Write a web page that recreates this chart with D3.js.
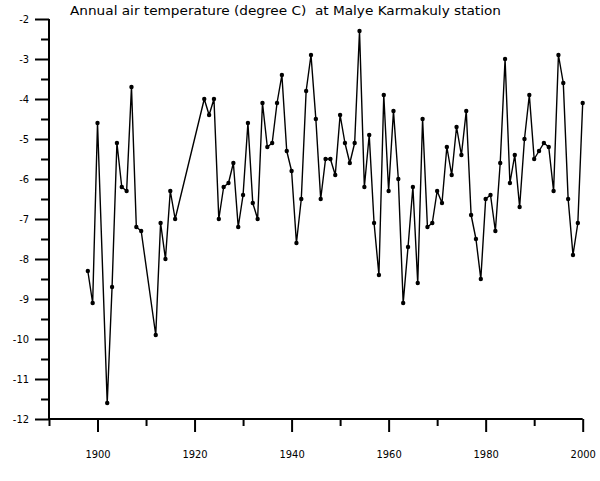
<!DOCTYPE html>
<html>
<head>
<meta charset="utf-8">
<script src="https://cdn.jsdelivr.net/npm/d3@7"></script>
<style>
html,body{margin:0;padding:0;background:#fff;}
svg{display:block;}
</style>
</head>
<body>
<script>
const years = [1898,1899,1900,1902,1903,1904,1905,1906,1907,1908,1909,1912,1913,1914,1915,1916,
1922,1923,1924,1925,1926,1927,1928,1929,1930,1931,1932,1933,1934,1935,1936,1937,1938,1939,1940,
1941,1942,1943,1944,1945,1946,1947,1948,1949,1950,1951,1952,1953,1954,1955,1956,1957,1958,1959,1960,
1961,1962,1963,1964,1965,1966,1967,1968,1969,1970,1971,1972,1973,1974,1975,1976,1977,1978,1979,1980,
1981,1982,1983,1984,1985,1986,1987,1988,1989,1990,1991,1992,1993,1994,1995,1996,1997,1998,1999,2000];
const temps = [-8.3,-9.1,-4.6,-11.6,-8.7,-5.1,-6.2,-6.3,-3.7,-7.2,-7.3,-9.9,-7.1,-8.0,-6.3,-7.0,
-4.0,-4.4,-4.0,-7.0,-6.2,-6.1,-5.6,-7.2,-6.4,-4.6,-6.6,-7.0,-4.1,-5.2,-5.1,-4.1,-3.4,-5.3,-5.8,
-7.6,-6.5,-3.8,-2.9,-4.5,-6.5,-5.5,-5.5,-5.9,-4.4,-5.1,-5.6,-5.1,-2.3,-6.2,-4.9,-7.1,-8.4,-3.9,-6.3,
-4.3,-6.0,-9.1,-7.7,-6.2,-8.6,-4.5,-7.2,-7.1,-6.3,-6.6,-5.2,-5.9,-4.7,-5.4,-4.3,-6.9,-7.5,-8.5,-6.5,
-6.4,-7.3,-5.6,-3.0,-6.1,-5.4,-6.7,-5.0,-3.9,-5.5,-5.3,-5.1,-5.2,-6.3,-2.9,-3.6,-6.5,-7.9,-7.1,-4.1];
const xMajorTicks = [1900,1920,1940,1960,1980,2000];
const xMinorTicks = [1890,1910,1930,1950,1970,1990];
const yMajorTicks = [-2,-3,-4,-5,-6,-7,-8,-9,-10,-11,-12];
const yMinorTicks = [-2.5,-3.5,-4.5,-5.5,-6.5,-7.5,-8.5,-9.5,-10.5,-11.5];
const title = "Annual air temperature (degree C)  at Malye Karmakuly station";

const W = 600, H = 481;
const svg = d3.select("body").append("svg").attr("width", W).attr("height", H);
const x = d3.scaleLinear().domain([1890, 2000]).range([49, 582.7]);
const y = d3.scaleLinear().domain([-12, -2]).range([419, 19]);
const font = "'DejaVu Sans Condensed','DejaVu Sans',sans-serif";
const fmt = d => String(d);

svg.append("text").attr("x", 70).attr("y", 15)
  .attr("font-family", "'DejaVu Sans',sans-serif").attr("font-size", 12.5).attr("fill", "#000")
  .attr("textLength", 431).attr("lengthAdjust", "spacingAndGlyphs")
  .style("white-space", "pre")
  .text(title);

// Y axis
const yMaj = svg.append("g").attr("transform", `translate(${x(1890)},0)`)
  .call(d3.axisLeft(y).tickValues(yMajorTicks).tickSize(14).tickPadding(6).tickFormat(fmt));
const yMin = svg.append("g").attr("transform", `translate(${x(1890)},0)`)
  .call(d3.axisLeft(y).tickValues(yMinorTicks).tickSize(8).tickFormat(""));
// X axis
const xMaj = svg.append("g").attr("transform", `translate(0,${y(-12)})`)
  .call(d3.axisBottom(x).tickValues(xMajorTicks).tickSize(13).tickPadding(18).tickFormat(fmt));
const xMin = svg.append("g").attr("transform", `translate(0,${y(-12)})`)
  .call(d3.axisBottom(x).tickValues(xMinorTicks).tickSize(7).tickFormat(""));

[yMaj, yMin, xMaj, xMin].forEach(g => {
  g.selectAll(".tick line").attr("stroke", "#000").attr("stroke-width", 2);
  g.selectAll("text").attr("font-family", font).attr("font-size", 11).attr("fill", "#000");
});
yMin.select(".domain").remove();
xMin.select(".domain").remove();
yMaj.select(".domain").attr("d", `M0,${y(-2)}V${y(-12)}`).attr("fill", "none").attr("stroke", "#000").attr("stroke-width", 2);
xMaj.select(".domain").attr("d", `M${x(1890)},0H${x(2000)}`).attr("fill", "none").attr("stroke", "#000").attr("stroke-width", 2);

const data = years.map((yr, i) => ({yr, t: temps[i]}));
const line = d3.line().x(d => x(d.yr)).y(d => y(d.t));
svg.append("path").datum(data).attr("d", line)
  .attr("fill", "none").attr("stroke", "#000").attr("stroke-width", 1.4).attr("stroke-linejoin", "round");
svg.selectAll("circle.pt").data(data).enter().append("circle").attr("class", "pt")
  .attr("cx", d => x(d.yr)).attr("cy", d => y(d.t)).attr("r", 2.2).attr("fill", "#000");
</script>
</body>
</html>
